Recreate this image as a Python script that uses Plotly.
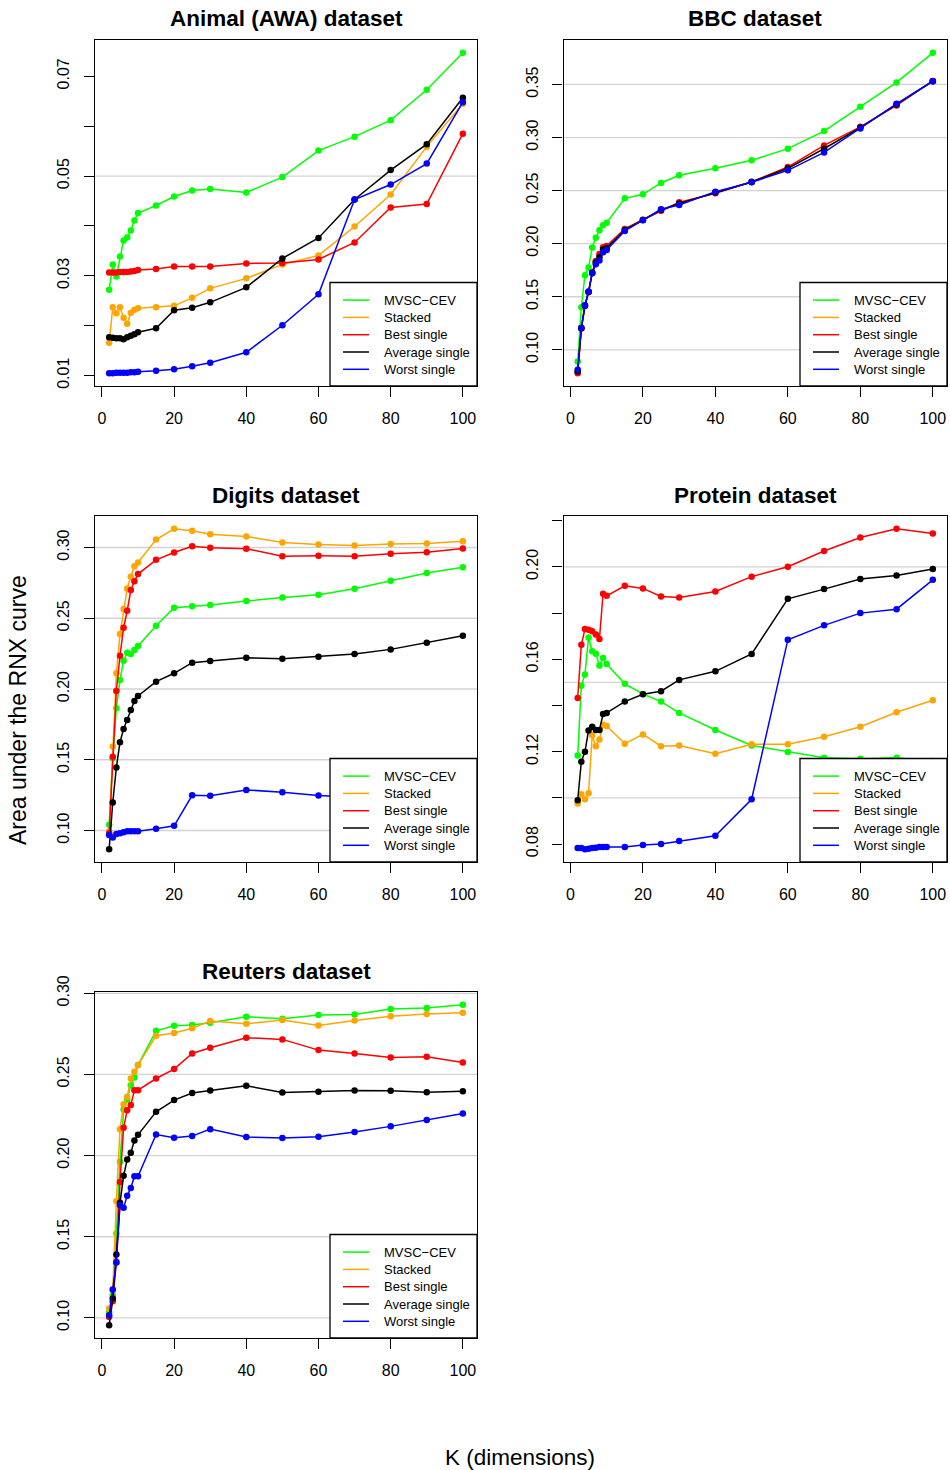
import plotly.graph_objects as go

# ---------------- data ----------------
K = [2, 3, 4, 5, 6, 7, 8, 9, 10, 15, 20, 25, 30, 40, 50, 60, 70, 80, 90, 100]
SERIES = ["MVSC\u2212CEV", "Stacked", "Best single", "Average single", "Worst single"]
COLORS = ["#00FF00", "#FFA500", "#FF0000", "#000000", "#0000FF"]
TITLES = ["Animal (AWA) dataset", "BBC dataset", "Digits dataset", "Protein dataset", "Reuters dataset"]
X_TICKS = [0, 20, 40, 60, 80, 100]

awa_mvsc = [0.0272, 0.0323, 0.0299, 0.0339, 0.0371, 0.0377, 0.0391, 0.0411, 0.0426, 0.0441,
            0.0459, 0.0471, 0.0474, 0.0467, 0.0498, 0.0551, 0.0579, 0.0612, 0.0673, 0.0747]
awa_stacked = [0.0166, 0.0237, 0.0225, 0.0237, 0.0216, 0.0204, 0.0226, 0.0232, 0.0235, 0.0237,
               0.0240, 0.0256, 0.0275, 0.0295, 0.0323, 0.0341, 0.0399, 0.0463, 0.0559, 0.0645]
awa_best = [0.0307, 0.0307, 0.0307, 0.0308, 0.0308, 0.0308, 0.0309, 0.0310, 0.0312, 0.0314,
            0.0319, 0.0319, 0.0319, 0.0325, 0.0326, 0.0333, 0.0367, 0.0437, 0.0444, 0.0585]
awa_avg = [0.0177, 0.0176, 0.0175, 0.0175, 0.0173, 0.0177, 0.0180, 0.0183, 0.0187, 0.0195,
           0.0231, 0.0236, 0.0247, 0.0277, 0.0335, 0.0376, 0.0453, 0.0512, 0.0564, 0.0657]
awa_worst = [0.0105, 0.0105, 0.0106, 0.0106, 0.0106, 0.0106, 0.0107, 0.0107, 0.0108, 0.0110,
             0.0113, 0.0119, 0.0126, 0.0147, 0.0201, 0.0263, 0.0453, 0.0483, 0.0525, 0.0648]
awa_yticks = [0.01, 0.02, 0.03, 0.04, 0.05, 0.06, 0.07]
awa_ylabels = ["0.01", "", "0.03", "", "0.05", "", "0.07"]

bbc_mvsc = [0.0890, 0.1402, 0.1703, 0.1775, 0.1963, 0.2057, 0.2126, 0.2173, 0.2198, 0.2427,
            0.2465, 0.2572, 0.2644, 0.2710, 0.2785, 0.2895, 0.3061, 0.3290, 0.3519, 0.3798]
bbc_stacked = [0.0794, 0.1205, 0.1418, 0.1546, 0.1724, 0.1822, 0.1872, 0.1944, 0.1960, 0.2131,
               0.2223, 0.2317, 0.2378, 0.2481, 0.2581, 0.2709, 0.2893, 0.3094, 0.3310, 0.3531]
bbc_best = [0.0780, 0.1200, 0.1414, 0.1543, 0.1728, 0.1837, 0.1903, 0.1966, 0.1979, 0.2139,
            0.2225, 0.2311, 0.2390, 0.2474, 0.2583, 0.2722, 0.2926, 0.3101, 0.3302, 0.3533]
bbc_avg = [0.0796, 0.1204, 0.1417, 0.1546, 0.1725, 0.1822, 0.1875, 0.1945, 0.1960, 0.2130,
           0.2223, 0.2318, 0.2378, 0.2482, 0.2581, 0.2710, 0.2895, 0.3094, 0.3310, 0.3531]
bbc_worst = [0.0812, 0.1207, 0.1420, 0.1549, 0.1722, 0.1806, 0.1841, 0.1919, 0.1941, 0.2120,
             0.2221, 0.2324, 0.2364, 0.2490, 0.2579, 0.2691, 0.2860, 0.3086, 0.3318, 0.3530]
bbc_yticks = [0.10, 0.15, 0.20, 0.25, 0.30, 0.35]
bbc_ylabels = ["0.10", "0.15", "0.20", "0.25", "0.30", "0.35"]

dig_mvsc = [0.1040, 0.1510, 0.1864, 0.2064, 0.2200, 0.2256, 0.2247, 0.2275, 0.2304, 0.2447,
            0.2574, 0.2584, 0.2593, 0.2621, 0.2647, 0.2666, 0.2708, 0.2765, 0.2819, 0.2861]
dig_stacked = [0.0993, 0.1593, 0.2111, 0.2388, 0.2565, 0.2711, 0.2793, 0.2868, 0.2894, 0.3056,
               0.3132, 0.3118, 0.3094, 0.3078, 0.3035, 0.3021, 0.3014, 0.3024, 0.3028, 0.3045]
dig_best = [0.0981, 0.1522, 0.1986, 0.2235, 0.2433, 0.2553, 0.2699, 0.2762, 0.2812, 0.2913,
            0.2965, 0.3009, 0.2998, 0.2991, 0.2939, 0.2941, 0.2939, 0.2955, 0.2967, 0.2993]
dig_avg = [0.0868, 0.1198, 0.1445, 0.1624, 0.1718, 0.1781, 0.1852, 0.1915, 0.1951, 0.2052,
           0.2111, 0.2186, 0.2198, 0.2221, 0.2214, 0.2228, 0.2247, 0.2280, 0.2327, 0.2376]
dig_worst = [0.0969, 0.0951, 0.0976, 0.0981, 0.0988, 0.0995, 0.0995, 0.0995, 0.0995, 0.1012,
             0.1033, 0.1249, 0.1245, 0.1287, 0.1271, 0.1247, 0.1235, 0.1240, 0.1250, 0.1260]
dig_yticks = [0.10, 0.15, 0.20, 0.25, 0.30]
dig_ylabels = ["0.10", "0.15", "0.20", "0.25", "0.30"]

pro_mvsc = [0.1184, 0.1486, 0.1534, 0.1695, 0.1635, 0.1624, 0.1573, 0.1606, 0.1580, 0.1494,
            0.1450, 0.1417, 0.1368, 0.1294, 0.1227, 0.1199, 0.1174, 0.1170, 0.1174, 0.1160]
pro_stacked = [0.0976, 0.1016, 0.0994, 0.1020, 0.1271, 0.1224, 0.1253, 0.1317, 0.1311, 0.1235,
               0.1275, 0.1224, 0.1227, 0.1191, 0.1232, 0.1232, 0.1265, 0.1308, 0.1371, 0.1423]
pro_best = [0.1433, 0.1663, 0.1731, 0.1728, 0.1721, 0.1707, 0.1688, 0.1884, 0.1875, 0.1918,
            0.1907, 0.1872, 0.1868, 0.1894, 0.1958, 0.2001, 0.2069, 0.2127, 0.2165, 0.2145]
pro_avg = [0.0990, 0.1157, 0.1200, 0.1292, 0.1308, 0.1294, 0.1294, 0.1363, 0.1368, 0.1417,
           0.1449, 0.1462, 0.1511, 0.1548, 0.1623, 0.1862, 0.1904, 0.1948, 0.1963, 0.1991]
pro_worst = [0.0783, 0.0783, 0.0778, 0.0780, 0.0783, 0.0784, 0.0787, 0.0787, 0.0788, 0.0788,
             0.0796, 0.0800, 0.0813, 0.0836, 0.0994, 0.1685, 0.1747, 0.1800, 0.1817, 0.1944]
pro_yticks = [0.08, 0.10, 0.12, 0.14, 0.16, 0.18, 0.20, 0.22]
pro_ylabels = ["0.08", "", "0.12", "", "0.16", "", "0.20", ""]

reu_mvsc = [0.1035, 0.1140, 0.1520, 0.1962, 0.2284, 0.2346, 0.2434, 0.2481, 0.2558, 0.2769,
            0.2800, 0.2804, 0.2818, 0.2855, 0.2843, 0.2866, 0.2870, 0.2903, 0.2909, 0.2929]
reu_stacked = [0.1058, 0.1170, 0.1719, 0.2163, 0.2317, 0.2362, 0.2475, 0.2516, 0.2558, 0.2738,
               0.2755, 0.2784, 0.2829, 0.2812, 0.2835, 0.2802, 0.2833, 0.2858, 0.2872, 0.2880]
reu_best = [0.1006, 0.1103, 0.1345, 0.1838, 0.2171, 0.2280, 0.2311, 0.2403, 0.2403, 0.2475,
            0.2533, 0.2629, 0.2664, 0.2726, 0.2716, 0.2650, 0.2629, 0.2605, 0.2609, 0.2574]
reu_avg = [0.0955, 0.1119, 0.1390, 0.1709, 0.1875, 0.1976, 0.2017, 0.2093, 0.2128, 0.2270,
           0.2342, 0.2385, 0.2401, 0.2430, 0.2389, 0.2393, 0.2401, 0.2399, 0.2391, 0.2397]
reu_worst = [0.1016, 0.1175, 0.1341, 0.1695, 0.1678, 0.1752, 0.1801, 0.1873, 0.1873, 0.2130,
             0.2110, 0.2120, 0.2163, 0.2114, 0.2108, 0.2116, 0.2145, 0.2180, 0.2219, 0.2260]
reu_yticks = [0.10, 0.15, 0.20, 0.25, 0.30]
reu_ylabels = ["0.10", "0.15", "0.20", "0.25", "0.30"]

DATASETS = [
    [awa_mvsc, awa_stacked, awa_best, awa_avg, awa_worst],
    [bbc_mvsc, bbc_stacked, bbc_best, bbc_avg, bbc_worst],
    [dig_mvsc, dig_stacked, dig_best, dig_avg, dig_worst],
    [pro_mvsc, pro_stacked, pro_best, pro_avg, pro_worst],
    [reu_mvsc, reu_stacked, reu_best, reu_avg, reu_worst],
]
YTICKS = [awa_yticks, bbc_yticks, dig_yticks, pro_yticks, reu_yticks]
YLABELS = [awa_ylabels, bbc_ylabels, dig_ylabels, pro_ylabels, reu_ylabels]
GRID_STEP = 0.05

# ---------------- layout geometry (pixels) ----------------
W, H = 950, 1470
COL_X = [(95, 477), (563.5, 947)]
ROW_Y = [(40, 386), (516, 862), (992, 1338)]
FONT = "Liberation Sans, Arial, Helvetica, sans-serif"

# legend box geometry (pixels, relative to the panel's bottom-right corner)
LEG_W, LEG_H = 147, 103.5
LEG_LINE = (13, 39)
LEG_TEXT = 52
LEG_ROW0, LEG_ROW_STEP = 16.7, 17.3


def pad_range(lo, hi, frac=0.04):
    d = (hi - lo) * frac
    return [lo - d, hi + d]


fig = go.Figure()
layout = dict(
    width=W, height=H,
    margin=dict(l=0, r=0, t=0, b=0, pad=0, autoexpand=False),
    paper_bgcolor="white", plot_bgcolor="white",
    font=dict(family=FONT, color="black"),
    showlegend=False,
    shapes=[], annotations=[],
)

for i, series in enumerate(DATASETS):
    row, col = divmod(i, 2)
    x0, x1 = COL_X[col]
    y0, y1 = ROW_Y[row]
    pw, ph = x1 - x0, y1 - y0
    xd = [x0 / W, x1 / W]
    yd = [1 - y1 / H, 1 - y0 / H]
    sfx = "" if i == 0 else str(i + 1)
    xa, ya = "x" + sfx, "y" + sfx

    all_y = [v for s in series for v in s]
    yr = pad_range(min(all_y), max(all_y))
    xr = pad_range(min(K), max(K))

    common = dict(
        ticks="outside", ticklen=10, tickwidth=1.2, tickcolor="black",
        showline=True, mirror=True, linecolor="black", linewidth=1.3,
        showgrid=False, zeroline=False, automargin=False,
        tickfont=dict(size=16, family=FONT, color="black"),
        ticklabelstandoff=8,
    )
    layout["xaxis" + sfx] = dict(domain=xd, anchor=ya, range=xr, tickmode="array",
                                 tickvals=X_TICKS, **common)
    layout["yaxis" + sfx] = dict(domain=yd, anchor=xa, range=yr, tickmode="array",
                                 tickvals=YTICKS[i], ticktext=YLABELS[i], tickangle=-90,
                                 **common)

    # light grey reference lines at multiples of 0.05
    k = int(yr[0] / GRID_STEP) + 1
    while k * GRID_STEP < yr[1]:
        layout["shapes"].append(dict(
            type="line", xref=xa + " domain", yref=ya, x0=0, x1=1,
            y0=k * GRID_STEP, y1=k * GRID_STEP, layer="below",
            line=dict(color="#D3D3D3", width=1.3)))
        k += 1

    for name, color, vals in zip(SERIES, COLORS, series):
        fig.add_trace(go.Scatter(
            x=K, y=vals, mode="lines+markers", xaxis=xa, yaxis=ya, name=name,
            line=dict(color=color, width=1.5),
            marker=dict(color=color, size=6.5, line=dict(width=0)),
            showlegend=False, hoverinfo="skip", cliponaxis=False))

    # legend box (bottom-right of each panel, drawn over the data)
    xdom, ydom = xa + " domain", ya + " domain"
    layout["shapes"].append(dict(
        type="rect", xref=xdom, yref=ydom, x0=1 - LEG_W / pw, x1=1, y0=0, y1=LEG_H / ph,
        fillcolor="white", line=dict(color="black", width=1.3), layer="above"))
    for j, (name, color) in enumerate(zip(SERIES, COLORS)):
        yy = (LEG_ROW0 + LEG_ROW_STEP * (len(SERIES) - 1 - j)) / ph
        layout["shapes"].append(dict(
            type="line", xref=xdom, yref=ydom,
            x0=1 - (LEG_W - LEG_LINE[0]) / pw, x1=1 - (LEG_W - LEG_LINE[1]) / pw,
            y0=yy, y1=yy, line=dict(color=color, width=1.5), layer="above"))
        layout["annotations"].append(dict(
            text=name, xref=xdom, yref=ydom, x=1 - (LEG_W - LEG_TEXT) / pw, y=yy,
            xanchor="left", yanchor="middle", showarrow=False,
            font=dict(size=13, family=FONT, color="black")))

    layout["annotations"].append(dict(
        text="<b>%s</b>" % TITLES[i], xref="paper", yref="paper",
        x=(xd[0] + xd[1]) / 2, y=1 - (y0 - 21) / H, xanchor="center", yanchor="middle",
        showarrow=False, font=dict(size=22.5, family=FONT, color="black")))

layout["annotations"].append(dict(
    text="Area under the RNX curve", xref="paper", yref="paper",
    x=18 / W, y=1 - 710 / H, xanchor="center", yanchor="middle", textangle=-90,
    showarrow=False, font=dict(size=23, family=FONT, color="black")))
layout["annotations"].append(dict(
    text="K (dimensions)", xref="paper", yref="paper",
    x=520 / W, y=1 - 1457 / H, xanchor="center", yanchor="middle",
    showarrow=False, font=dict(size=22.5, family=FONT, color="black")))

fig.update_layout(**layout)
fig.write_html("out.html")
